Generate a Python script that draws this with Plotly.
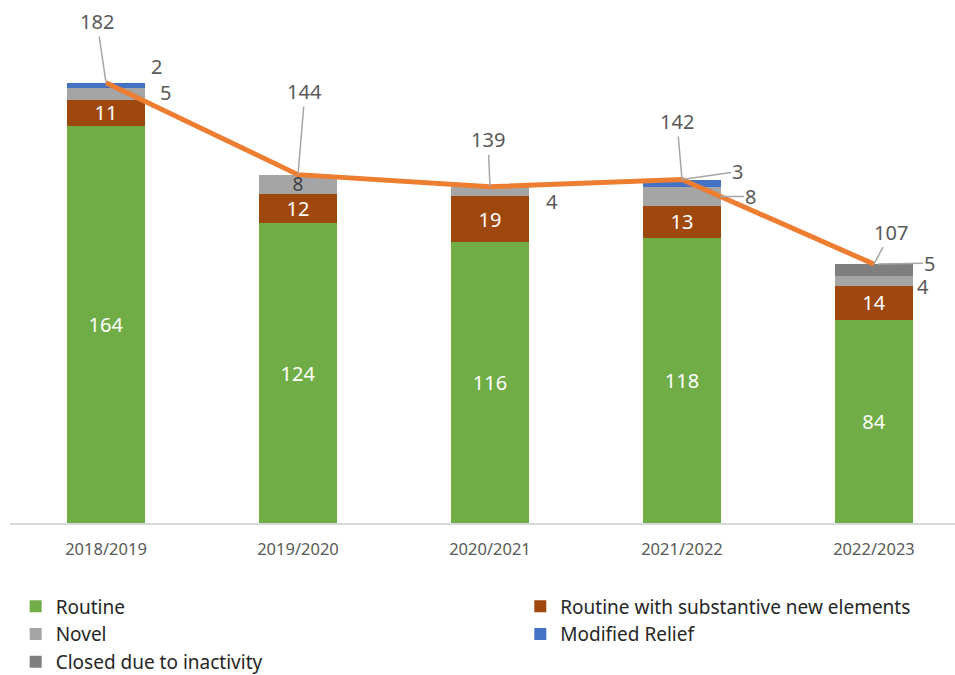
import plotly.graph_objects as go

years = ["2018/2019", "2019/2020", "2020/2021", "2021/2022", "2022/2023"]
routine = [164, 124, 116, 118, 84]
routine_new = [11, 12, 19, 13, 14]
novel = [5, 8, 4, 8, 4]
modified = [2, 0, 0, 3, 0]
closed = [0, 0, 0, 0, 5]
totals = [a + b + c + d + e for a, b, c, d, e in zip(routine, routine_new, novel, modified, closed)]

FONT = "Noto Sans, Open Sans, sans-serif"
LBL = "#595959"
LEAD = "#A6A6A6"

fig = go.Figure()

fig.add_trace(go.Bar(
    x=years, y=routine, name="Routine", marker=dict(color="#70AD47", line=dict(width=0)),
    text=[str(v) for v in routine], textposition="inside", insidetextanchor="middle",
    textangle=0, textfont=dict(color="white", size=20, family=FONT), constraintext="none",
    legend="legend", legendrank=1, hoverinfo="skip"))
fig.add_trace(go.Bar(
    x=years, y=routine_new, name="Routine with substantive new elements",
    marker=dict(color="#9E480E", line=dict(width=0)),
    text=[str(v) for v in routine_new], textposition="inside", insidetextanchor="middle",
    textangle=0, textfont=dict(color="white", size=20, family=FONT), constraintext="none",
    legend="legend2", legendrank=1, hoverinfo="skip"))
novel_text = ["", str(novel[1]), "", "", ""]
fig.add_trace(go.Bar(
    x=years, y=novel, name="Novel", marker=dict(color="#A5A5A5", line=dict(width=0)),
    text=novel_text, textposition="inside", insidetextanchor="middle",
    textangle=0, textfont=dict(color="#404040", size=19, family=FONT), constraintext="none",
    legend="legend", legendrank=2, hoverinfo="skip"))
fig.add_trace(go.Bar(
    x=years, y=modified, name="Modified Relief", marker=dict(color="#4472C4", line=dict(width=0)),
    legend="legend2", legendrank=2, hoverinfo="skip"))
fig.add_trace(go.Bar(
    x=years, y=closed, name="Closed due to inactivity", marker=dict(color="#7F7F7F", line=dict(width=0)),
    legend="legend", legendrank=3, hoverinfo="skip"))
fig.add_trace(go.Scatter(
    x=years, y=totals, mode="lines", line=dict(color="#ED7D31", width=5),
    showlegend=False, hoverinfo="skip"))

ann = []
tot_off = [(-9, -61), (7, -83), (-2, -47), (-5, -58), (17, -32)]
for i, (ax, ay) in enumerate(tot_off):
    ann.append(dict(x=years[i], y=totals[i], text=str(totals[i]), showarrow=True,
                    ax=ax, ay=ay, arrowhead=0, arrowwidth=1.5, arrowcolor=LEAD,
                    font=dict(size=20, color=LBL, family=FONT)))

ann.append(dict(x=years[0], y=routine[0] + routine_new[0] + novel[0] + modified[0] / 2,
                text=str(modified[0]), showarrow=False, xshift=50, yshift=19,
                font=dict(size=20, color=LBL, family=FONT)))
ann.append(dict(x=years[0], y=routine[0] + routine_new[0] + novel[0] / 2,
                text=str(novel[0]), showarrow=False, xshift=59, yshift=1,
                font=dict(size=20, color=LBL, family=FONT)))
ann.append(dict(x=years[2], y=routine[2] + routine_new[2] + novel[2] / 2,
                text=str(novel[2]), showarrow=False, xshift=62, yshift=-10,
                font=dict(size=20, color=LBL, family=FONT)))
ann.append(dict(x=years[3], y=routine[3] + routine_new[3] + novel[3] + modified[3],
                text=str(modified[3]), showarrow=True, ax=56, ay=-8, arrowhead=0,
                arrowwidth=1.5, arrowcolor=LEAD, font=dict(size=20, color=LBL, family=FONT)))
ann.append(dict(x=years[3], y=routine[3] + routine_new[3] + novel[3] / 2,
                text=str(novel[3]), showarrow=True, ax=69, ay=0, standoff=38, arrowhead=0,
                arrowwidth=1.5, arrowcolor=LEAD, font=dict(size=20, color=LBL, family=FONT)))
ann.append(dict(x=years[4], y=totals[4],
                text=str(closed[4]), showarrow=True, ax=56, ay=-1, standoff=4, arrowhead=0,
                arrowwidth=1.5, arrowcolor=LEAD, font=dict(size=20, color=LBL, family=FONT)))
ann.append(dict(x=years[4], y=routine[4] + routine_new[4] + novel[4] / 2,
                text=str(novel[4]), showarrow=False, xshift=49, yshift=-5,
                font=dict(size=20, color=LBL, family=FONT)))

fig.update_layout(
    width=955, height=675,
    margin=dict(l=10, r=0, t=15, b=152, autoexpand=False),
    barmode="stack", bargap=0.59,
    plot_bgcolor="white", paper_bgcolor="white",
    font=dict(family=FONT, color=LBL),
    annotations=ann,
    xaxis=dict(range=[-0.5, 4.422], showline=True, linecolor="#D9D9D9", linewidth=2,
               ticks="", tickfont=dict(size=16.5, color=LBL, family=FONT),
               ticklabelstandoff=10, showgrid=False, zeroline=False),
    yaxis=dict(range=[0, 210], visible=False, showgrid=False, zeroline=False),
    legend=dict(x=0.006, xanchor="left", y=-0.127, yanchor="top", orientation="v",
                font=dict(size=19, color="#262626", family=FONT), bgcolor="rgba(0,0,0,0)",
                traceorder="normal", itemclick=False),
    legend2=dict(x=0.54, xanchor="left", y=-0.127, yanchor="top", orientation="v",
                 font=dict(size=19, color="#262626", family=FONT), bgcolor="rgba(0,0,0,0)",
                 traceorder="normal", itemclick=False),
)

fig.write_html("out.html")
